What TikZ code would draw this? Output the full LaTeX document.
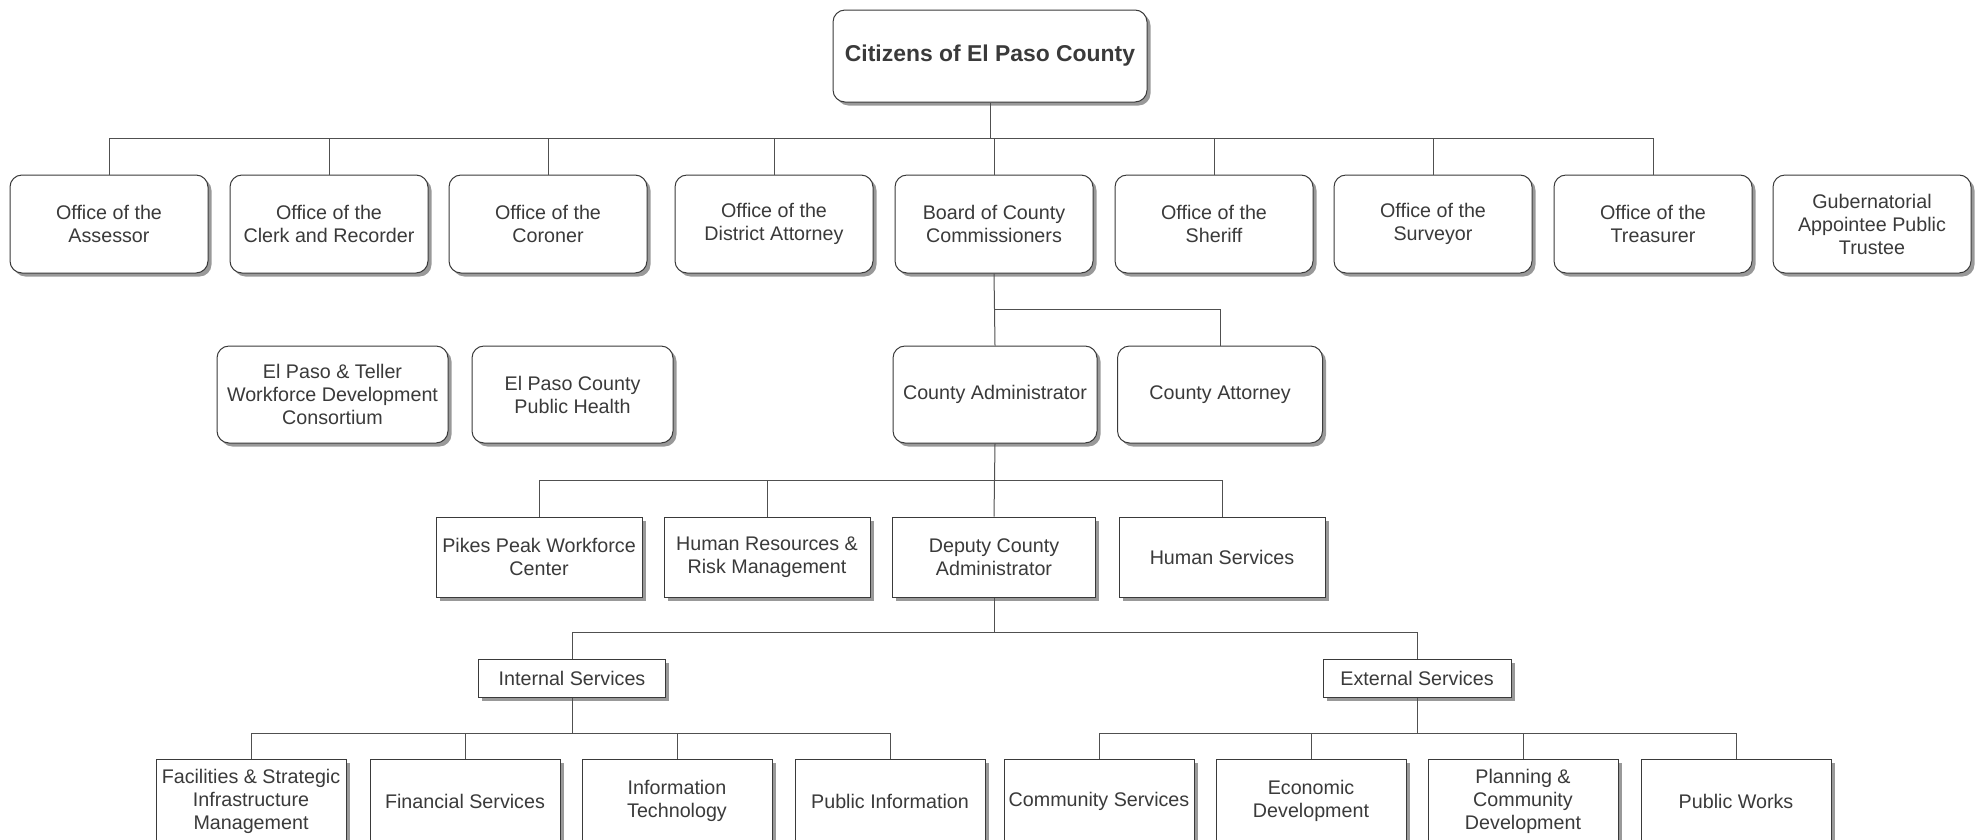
\documentclass[tikz,border=0pt]{standalone}
\usepackage{fontspec}
\setmainfont{Liberation Sans}
\usetikzlibrary{shadows}
\definecolor{ink}{HTML}{3A3A3A}
\definecolor{wire}{HTML}{505050}
\definecolor{shade}{HTML}{999999}
\tikzset{
  base/.style={draw=ink, line width=1pt, fill=white, align=center, inner sep=0pt, text=ink,
    font=\fontsize{19.7}{23}\selectfont,
    drop shadow={shadow xshift=3.5pt, shadow yshift=-3.5pt, fill=shade, opacity=1}},
  rbox/.style={base, rounded corners=12pt, minimum width=198pt, minimum height=98pt},
  sbox/.style={base, minimum height=80pt},
  lbox/.style={base, minimum height=84pt, minimum width=190pt},
  link/.style={draw=wire, line width=1pt}
}
\begin{document}
\begin{tikzpicture}[x=1pt,y=-1pt]
\useasboundingbox (0,0) rectangle (1981,839);
% top
\node[rbox, minimum width=314pt, minimum height=92pt, font=\fontsize{22.9}{27}\selectfont\bfseries] (cit) at (990,56) {Citizens of El Paso County};
% row 1
\node[rbox] (ass) at (109,224) {Office of the\\Assessor};
\node[rbox] (clk) at (329,224) {Office of the\\Clerk and Recorder};
\node[rbox] (cor) at (548,224) {Office of the\\Coroner};
\node[rbox] (da)  at (774,224) {Office of the\\District Attorney};
\node[rbox] (brd) at (994,224) {Board of County\\Commissioners};
\node[rbox] (shf) at (1214,224) {Office of the\\Sheriff};
\node[rbox] (sur) at (1433,224) {Office of the\\Surveyor};
\node[rbox] (tre) at (1653,224) {Office of the\\Treasurer};
\node[rbox] (gub) at (1872,224) {Gubernatorial\\Appointee Public\\Trustee};
% row 2
\node[rbox, minimum width=231pt, minimum height=97pt] (ept) at (332.5,394.5) {El Paso \& Teller\\Workforce Development\\Consortium};
\node[rbox, minimum width=201pt, minimum height=97pt] (ph) at (572.5,394.5) {El Paso County\\Public Health};
\node[rbox, minimum width=204pt, minimum height=97pt] (cad) at (995,394.5) {County Administrator};
\node[rbox, minimum width=205pt, minimum height=97pt] (cat) at (1220,394.5) {County Attorney};
% row 3
\node[sbox, minimum width=206pt] (ppw) at (539,557) {Pikes Peak Workforce\\Center};
\node[sbox, minimum width=206pt] (hr)  at (767,557) {Human Resources \&\\Risk Management};
\node[sbox, minimum width=203pt] (dep) at (994,557) {Deputy County\\Administrator};
\node[sbox, minimum width=206pt] (hs)  at (1222,557) {Human Services};
% row 4
\node[base, minimum width=187pt, minimum height=38pt] (int) at (572,678) {Internal Services};
\node[base, minimum width=188pt, minimum height=38pt] (ext) at (1417,678) {External Services};
% row 5
\node[lbox] (fac) at (251,801) {Facilities \& Strategic\\Infrastructure\\Management};
\node[lbox] (fin) at (465,801) {Financial Services};
\node[lbox] (it)  at (677,801) {Information\\Technology};
\node[lbox] (pi)  at (890,801) {Public Information};
\node[lbox] (cs)  at (1099,801) {Community Services};
\node[lbox] (ed)  at (1311,801) {Economic\\Development};
\node[lbox] (pcd) at (1523,801) {Planning \&\\Community\\Development};
\node[lbox] (pw)  at (1736,801) {Public Works};
% buses
\coordinate (b1) at (990,138);
\coordinate (b2) at (994,309);
\coordinate (b3) at (994,480);
\coordinate (b4) at (994,632);
\coordinate (b5) at (572,733);
\coordinate (b6) at (1417,733);
\draw[link] (cit.south) -- (b1);
\foreach \n in {ass,clk,cor,da,brd,shf,sur,tre} \draw[link] (\n.north) |- (b1);
\draw[link] (brd.south) -- (cad.north);
\draw[link] (cat.north) |- (b2);
\draw[link] (cad.south) -- (dep.north);
\foreach \n in {ppw,hr,hs} \draw[link] (\n.north) |- (b3);
\draw[link] (dep.south) -- (b4);
\foreach \n in {int,ext} \draw[link] (\n.north) |- (b4);
\draw[link] (int.south) -- (b5);
\foreach \n in {fac,fin,it,pi} \draw[link] (\n.north) |- (b5);
\draw[link] (ext.south) -- (b6);
\foreach \n in {cs,ed,pcd,pw} \draw[link] (\n.north) |- (b6);
\end{tikzpicture}
\end{document}
